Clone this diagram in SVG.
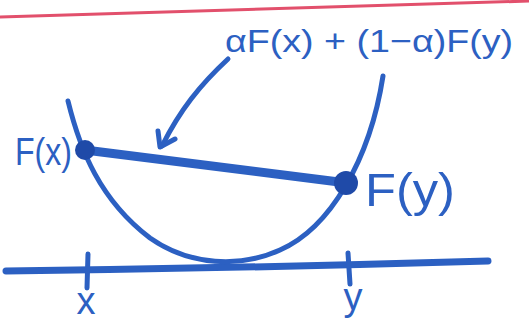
<svg xmlns="http://www.w3.org/2000/svg" width="529" height="326" viewBox="0 0 529 326">
  <style>
    .ink { stroke: #2c60c2; fill: none; stroke-linecap: round; stroke-linejoin: round; }
    .lbl { fill: #2c60c2; font-family: "Liberation Sans", "DejaVu Sans", sans-serif; }
    .dot { fill: #1f4aa8; }
  </style>
  <rect width="529" height="326" fill="#ffffff"/>
  <path d="M0 17 L529 1" stroke="#e2506c" stroke-width="3" fill="none"/>

  <g id="axis">
    <path class="ink" d="M6 271 Q250 268 488 261" stroke-width="7"/>
    <path class="ink" d="M88 254 L87 288" stroke-width="5"/>
    <path class="ink" d="M348 253 L350 284" stroke-width="5"/>
    <text class="lbl" x="86" y="314" font-size="38" text-anchor="middle">x</text>
    <text class="lbl" x="353" y="310" font-size="38" text-anchor="middle">y</text>
  </g>

  <g id="curve">
    <path class="ink" d="M68 101 C80 150 100 200 150 238 C190 266 240 268 280 250 C330 228 370 160 383 76" stroke-width="5"/>
  </g>

  <g id="chord">
    <path class="ink" d="M85 150 L347 183" stroke-width="9"/>
    <circle class="dot" cx="85" cy="150" r="10"/>
    <circle class="dot" cx="346" cy="183" r="12"/>
  </g>

  <g id="label-fx">
    <text class="lbl" x="15" y="165" font-size="38" textLength="57" lengthAdjust="spacingAndGlyphs">F(x)</text>
  </g>
  <g id="label-fy">
    <text class="lbl" x="365" y="206" font-size="46" textLength="90" lengthAdjust="spacingAndGlyphs">F(y)</text>
  </g>

  <g id="label-combo">
    <text class="lbl" x="225" y="52" font-size="32" textLength="288" lengthAdjust="spacingAndGlyphs">αF(x) + (1−α)F(y)</text>
  </g>

  <g id="connectors">
    <path class="ink" d="M228 59 C200 85 180 110 162 146" stroke-width="5"/>
    <path class="ink" d="M158 131 L160 147 L175 139" stroke-width="5"/>
  </g>
</svg>
